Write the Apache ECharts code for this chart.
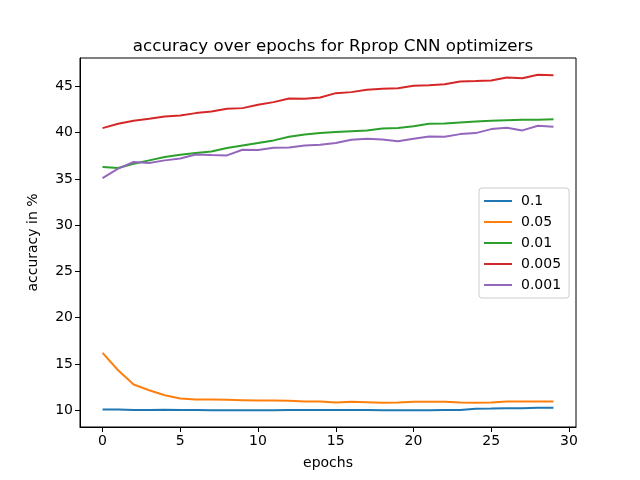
<!DOCTYPE html>
<html>
<head>
<meta charset="utf-8">
<script src="https://cdn.jsdelivr.net/npm/echarts@6/dist/echarts.min.js"></script>
<style>html,body{margin:0;padding:0;background:#fff}#c{width:640px;height:480px}</style>
</head>
<body>
<div id="c"></div>
<script>
const epochs = Array.from({length: 30}, (_, i) => i);
const seriesNames = ['0.1', '0.05', '0.01', '0.005', '0.001'];
const lr_0_1 = [10.07,10.07,10.03,10.03,10.05,10.03,10.03,10.0,10.0,10.0,10.0,10.0,10.02,10.03,10.03,10.03,10.03,10.03,10.0,10.0,10.0,10.0,10.03,10.03,10.15,10.17,10.2,10.22,10.25,10.25];
const lr_0_05 = [16.19,14.32,12.77,12.16,11.62,11.26,11.15,11.15,11.12,11.08,11.04,11.04,11.01,10.94,10.94,10.83,10.90,10.86,10.79,10.83,10.90,10.90,10.90,10.83,10.79,10.83,10.94,10.94,10.94,10.94];
const lr_0_01 = [36.29,36.18,36.65,37.01,37.37,37.62,37.80,37.98,38.34,38.63,38.88,39.17,39.56,39.81,39.96,40.07,40.17,40.25,40.46,40.50,40.71,40.97,41.00,41.11,41.22,41.29,41.36,41.40,41.40,41.47];
const lr_0_005 = [40.50,40.97,41.29,41.51,41.76,41.87,42.12,42.30,42.59,42.66,43.02,43.31,43.70,43.67,43.81,44.28,44.39,44.64,44.75,44.82,45.07,45.14,45.25,45.54,45.58,45.65,45.97,45.90,46.26,46.22];
const lr_0_001 = [35.10,36.11,36.83,36.72,37.01,37.22,37.65,37.58,37.55,38.16,38.12,38.37,38.41,38.63,38.70,38.88,39.24,39.35,39.27,39.09,39.35,39.60,39.56,39.85,39.96,40.39,40.54,40.25,40.75,40.64];
const xTicks = [0, 5, 10, 15, 20, 25, 30];
const yTicks = [10, 15, 20, 25, 30, 35, 40, 45];
const colors = ['#1f77b4', '#ff7f0e', '#2ca02c', '#d62728', '#9467bd'];
const allData = [lr_0_1, lr_0_05, lr_0_01, lr_0_005, lr_0_001];

const font = 'DejaVu Sans';
const chart = echarts.init(document.getElementById('c'), null, {renderer: 'canvas'});
chart.setOption({
  animation: false,
  backgroundColor: '#fff',
  color: colors,
  title: {
    text: 'accuracy over epochs for Rprop CNN optimizers',
    left: 328, top: 33, textAlign: 'center',
    textStyle: {fontFamily: font, fontSize: 16.7, fontWeight: 'normal', color: '#000'}
  },
  grid: {left: 80, right: 64, top: 58, bottom: 53, show: true, borderColor: '#000', borderWidth: 1, containLabel: false},
  legend: {
    orient: 'vertical', left: 479, top: 188,
    data: seriesNames,
    icon: 'rect', itemWidth: 28, itemHeight: 2, itemGap: 7,
    padding: [6, 8, 6, 5],
    borderColor: '#cccccc', borderWidth: 1, borderRadius: 3,
    backgroundColor: 'rgba(255,255,255,0.8)',
    textStyle: {fontFamily: font, fontSize: 14, color: '#000', padding: [0, 0, 0, 4]}
  },
  xAxis: {
    type: 'value', min: -1.45, max: 30.45,
    name: 'epochs', nameLocation: 'middle', nameGap: 29,
    nameTextStyle: {fontFamily: font, fontSize: 14, color: '#000'},
    axisLine: {show: true, onZero: false, lineStyle: {color: '#000', width: 1}},
    axisTick: {show: true, inside: false, length: 5, lineStyle: {color: '#000'}, customValues: xTicks},
    axisLabel: {fontFamily: font, fontSize: 14, color: '#000', margin: 7, customValues: xTicks},
    splitLine: {show: false}
  },
  yAxis: {
    type: 'value', min: 8.18, max: 48.08,
    name: 'accuracy in %', nameLocation: 'middle', nameGap: 40,
    nameTextStyle: {fontFamily: font, fontSize: 14, color: '#000'},
    axisLine: {show: true, onZero: false, lineStyle: {color: '#000', width: 1}},
    axisTick: {show: true, inside: false, length: 5, lineStyle: {color: '#000'}, customValues: yTicks},
    axisLabel: {fontFamily: font, fontSize: 14, color: '#000', margin: 7, customValues: yTicks},
    splitLine: {show: false}
  },
  series: seriesNames.map((n, i) => ({
    name: n, type: 'line', showSymbol: false, symbol: 'none',
    data: epochs.map((e, j) => [e, allData[i][j]]),
    lineStyle: {width: 2, color: colors[i]},
    itemStyle: {color: colors[i]}
  }))
});
</script>
</body>
</html>
